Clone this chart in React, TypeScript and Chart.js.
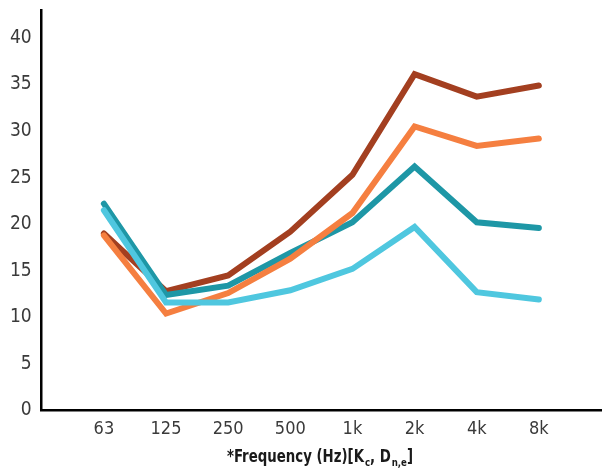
import React, { useEffect, useRef } from "react";
import { Chart, registerables } from "chart.js";

Chart.register(...registerables);

const categories = ["63", "125", "250", "500", "1k", "2k", "4k", "8k"];
const yTicks = [0, 5, 10, 15, 20, 25, 30, 35, 40];
const seriesBrown = [19.0, 12.8, 14.5, 19.2, 25.3, 36.1, 33.7, 34.9];
const seriesOrange = [18.8, 10.4, 12.6, 16.3, 21.2, 30.5, 28.4, 29.2];
const seriesTeal = [22.2, 12.4, 13.4, 16.9, 20.2, 26.2, 20.2, 19.6];
const seriesLightBlue = [21.5, 11.6, 11.6, 12.9, 15.2, 19.7, 12.7, 11.9];

const FONT = "'DejaVu Sans Condensed', 'Liberation Sans Narrow', sans-serif";

const titlePlugin = {
  id: "subTitle",
  afterDraw(chart: any) {
    const ctx = chart.ctx;
    const parts: [string, boolean][] = [
      ["*Frequency (Hz)[K", false],
      ["c", true],
      [", D", false],
      ["n,e", true],
      ["]", false],
    ];
    const mainFont = `bold 17px ${FONT}`;
    const subFont = `bold 11px ${FONT}`;
    ctx.save();
    let total = 0;
    for (const [t, s] of parts) {
      ctx.font = s ? subFont : mainFont;
      total += ctx.measureText(t).width + (s ? 1 : 0);
    }
    const targetW = 186;
    const k = Math.min(1, targetW / total);
    const cx = 320;
    const baseY = 462;
    ctx.translate(cx, baseY);
    ctx.scale(k, 1);
    let x = -total / 2;
    ctx.fillStyle = "#1a1a1a";
    ctx.textBaseline = "alphabetic";
    ctx.textAlign = "left";
    for (const [t, s] of parts) {
      ctx.font = s ? subFont : mainFont;
      ctx.fillText(t, x + (s ? 1 : 0), s ? 4 : 0);
      x += ctx.measureText(t).width + (s ? 1 : 0);
    }
    ctx.restore();
  },
};

export default function App() {
  const ref = useRef<HTMLCanvasElement>(null);
  useEffect(() => {
    document.body.style.margin = "0";
    const mk = (vals: number[]) => vals.map((v, i) => ({ x: i + 1, y: v }));
    const ds = (label: string, vals: number[], color: string) => ({
      label,
      data: mk(vals),
      borderColor: color,
      backgroundColor: color,
      borderWidth: 6,
      pointRadius: 0,
      borderCapStyle: "round" as const,
      borderJoinStyle: "miter" as const,
      tension: 0,
    });
    const chart = new Chart(ref.current!, {
      type: "line",
      data: {
        datasets: [
          ds("Light blue", seriesLightBlue, "#4fc7df"),
          ds("Orange", seriesOrange, "#f57f40"),
          ds("Teal", seriesTeal, "#1e97a6"),
          ds("Brown", seriesBrown, "#a33f20"),
        ],
      },
      options: {
        animation: false,
        responsive: false,
        layout: { padding: { top: 10, right: 2, bottom: 22, left: 0 } },
        plugins: { legend: { display: false }, tooltip: { enabled: false } },
        scales: {
          x: {
            type: "linear",
            min: 0,
            max: categories.length + 1,
            afterBuildTicks: (s: any) => {
              s.ticks = categories.map((_, i) => ({ value: i + 1 }));
            },
            ticks: {
              autoSkip: false,
              maxRotation: 0,
              padding: 8,
              color: "#3a3a3a",
              font: { family: FONT, size: 18 },
              callback: (v: any) => categories[Number(v) - 1] ?? "",
            },
            grid: { display: false, drawTicks: false },
            border: { display: true, color: "#000", width: 2.5 },
          },
          y: {
            min: 0,
            max: 43,
            afterBuildTicks: (s: any) => {
              s.ticks = yTicks.map((v) => ({ value: v }));
            },
            afterFit: (s: any) => {
              s.paddingTop = 0;
            },
            ticks: {
              padding: 10,
              color: "#3a3a3a",
              font: { family: FONT, size: 19 },
            },
            grid: { display: false, drawTicks: false },
            border: { display: true, color: "#000", width: 2.5 },
          },
        },
      },
      plugins: [titlePlugin],
    });
    return () => chart.destroy();
  }, []);
  return <canvas ref={ref} width={603} height={470} style={{ display: "block" }} />;
}
